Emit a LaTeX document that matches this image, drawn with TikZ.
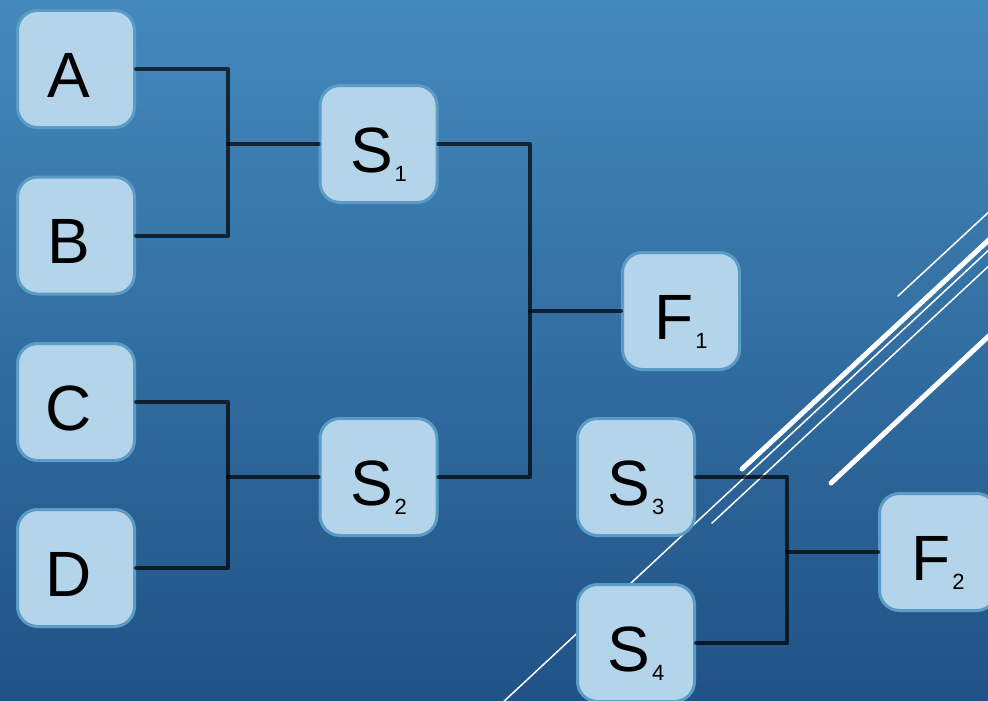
\documentclass[tikz,border=0pt]{standalone}
\usepackage{fontspec}
\setmainfont{Liberation Sans}
\definecolor{boxfill}{HTML}{B4D4EA}
\definecolor{boxline}{HTML}{5A9CC5}
\definecolor{bgtop}{HTML}{4489BC}
\definecolor{bgbottom}{HTML}{205286}
\newcommand{\boxlabel}[2]{#1\kern2pt\raisebox{-9pt}{\fontsize{22}{22}\selectfont #2}}
\tikzset{
  team/.style={draw=boxline, fill=boxfill, line width=3pt, rounded corners=20pt,
    minimum size=117pt, inner sep=0pt, text height=56pt, text depth=0pt,
    font=\fontsize{64}{64}\selectfont},
  bracket/.style={draw=black, draw opacity=0.7, line width=4pt, line cap=round, line join=round},
  streak/.style={draw=white, line cap=round}
}
\begin{document}
\begin{tikzpicture}[x=1pt,y=-1pt]
				\shade[top color=bgtop, bottom color=bgbottom] (0,0) rectangle (988,701);
				\useasboundingbox (0,0) rectangle (988,701);
				%--
				\draw[streak, line width=1.5pt] (898,296) -- (992,209);
				\draw[streak, line width=5pt] (742,469) -- (992,237);
				\draw[streak, line width=1.5pt] (500,705) -- (992,247);
				\draw[streak, line width=1.5pt] (712,523) -- (992,263);
				\draw[streak, line width=5pt] (831,483) -- (992,333);
				%--
				\node[team] (A) at (76,69) {\boxlabel{A}{\phantom{1}}};
				\node[team] (B) at (76,235.5) {\boxlabel{B}{\phantom{1}}};
				\node[team] (C) at (76,402) {\boxlabel{C}{\phantom{1}}};
				\node[team] (D) at (76,568) {\boxlabel{D}{\phantom{1}}};
				%--
				\node[team] (S1) at (378.5,144) {\boxlabel{S}{1}};
				\node[team] (S2) at (378.5,477) {\boxlabel{S}{2}};
				\node[team] (F1) at (681,311) {\boxlabel{F}{1}};
				%--
				\node[team] (S3) at (636,477) {\boxlabel{S}{3}};
				\node[team] (S4) at (636,643) {\boxlabel{S}{4}};
				\node[team] (F2) at (938,552) {\boxlabel{F}{2}};
				%--
				\coordinate (AB) at (228,144);
				\coordinate (CD) at (228,477);
				\coordinate (S12) at (530,311);
				\coordinate (S34) at (787,552);
				\draw[bracket] (A.east) -| (AB) |- (B.east);
				\draw[bracket] (AB) -- (S1.west);
				\draw[bracket] (C.east) -| (CD) |- (D.east);
				\draw[bracket] (CD) -- (S2.west);
				\draw[bracket] (S1.east) -| (S12) |- (S2.east);
				\draw[bracket] (S12) -- (F1.west);
				\draw[bracket] (S3.east) -| (S34) |- (S4.east);
				\draw[bracket] (S34) -- (F2.west);
			\end{tikzpicture}
\end{document}
